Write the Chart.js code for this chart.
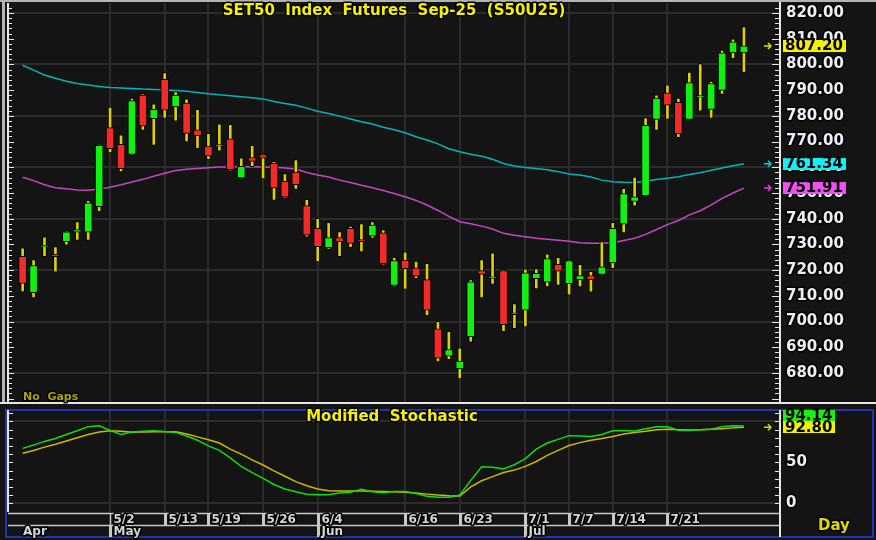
<!DOCTYPE html>
<html lang="en">
<head>
<meta charset="UTF-8" />
<title>SET50 Index Futures Sep-25</title>
<script src="https://cdn.jsdelivr.net/npm/chart.js@4.4.1/dist/chart.umd.min.js"></script>
<style>
  body { margin: 0; background: #141414; }
  #wrap { position: relative; width: 876px; height: 540px; background: #141414; overflow: hidden; }
  canvas { position: absolute; left: 0; }
  #main { top: 0; }
  #stoch { top: 404px; }
</style>
</head>
<body>
<div id="wrap">
  <canvas id="main" width="876" height="404"></canvas>
  <canvas id="stoch" width="876" height="136"></canvas>
</div>
<script>
// daily candles, S50U25
const opens  = [725.4,711.2,729.0,726.2,731.1,734.8,734.8,744.7,775.4,768.9,765.0,788.1,778.9,794.2,783.5,785.0,774.6,768.2,768.2,771.1,755.9,763.8,764.9,761.5,754.5,758.1,745.1,736.2,728.7,732.6,736.2,731.9,733.2,734.5,714.0,723.9,720.9,716.3,697.2,686.5,681.6,694.0,719.8,716.8,719.8,703.4,704.4,716.7,715.3,722.2,714.7,716.3,717.9,718.3,722.8,737.9,746.7,749.0,778.6,789.0,785.3,778.6,787.3,782.5,789.9,804.5,804.5];
const highs  = [728.7,724.1,732.9,729.1,735.3,738.9,747.1,769.0,783.4,772.6,786.9,788.7,784.7,796.8,789.4,786.6,782.5,773.2,776.9,776.7,763.7,768.5,765.4,762.3,757.5,763.0,747.5,740.1,738.6,735.0,737.1,738.1,738.9,735.8,725.0,727.1,723.5,722.6,700.1,696.2,689.8,716.3,724.1,726.7,720.3,707.0,720.5,720.6,726.3,725.0,724.1,722.2,719.5,731.1,738.6,751.8,756.2,779.3,788.2,792.1,786.9,797.0,800.3,793.4,805.6,810.0,814.7];
const lows   = [711.5,709.2,725.2,719.2,729.7,731.5,731.5,742.7,765.6,758.2,764.5,774.3,768.5,779.0,777.9,769.9,767.2,763.0,766.3,758.5,755.5,760.2,755.5,747.1,747.9,751.4,732.8,723.2,728.0,725.2,728.7,727.1,732.3,721.9,713.5,712.5,716.7,702.3,684.3,685.2,677.7,692.0,709.2,714.4,696.0,697.2,697.9,712.7,713.5,714.0,710.2,713.5,711.4,718.0,720.6,734.5,744.9,748.8,774.3,778.6,771.5,778.3,781.8,779.0,788.3,802.2,796.8];
const closes = [714.8,721.8,729.6,725.2,734.9,735.8,746.2,768.5,767.2,759.5,785.9,776.0,782.5,782.2,788.1,773.2,772.3,764.3,768.8,759.1,760.4,762.3,763.5,751.9,748.4,753.2,733.6,729.1,732.6,731.1,730.4,731.1,737.5,722.5,723.7,720.6,717.6,704.4,685.7,689.1,684.6,715.4,718.3,717.4,698.8,702.7,718.9,718.7,724.5,719.6,723.7,717.9,716.3,721.3,736.2,749.8,748.5,776.3,786.9,784.2,773.0,792.9,787.9,792.6,804.5,808.8,807.2];

// moving averages
const maLong  = [799.7,797.8,795.9,794.6,793.5,792.6,792.0,791.4,791.0,790.8,790.6,790.4,790.3,790.1,789.9,789.6,789.1,788.6,788.2,787.8,787.4,787.0,786.6,785.6,784.8,784.1,783.0,781.8,780.9,779.9,778.8,777.7,776.8,775.6,774.6,773.4,771.9,770.6,769.1,767.2,766.0,765.1,764.3,763.1,761.5,760.5,759.9,759.5,759.0,758.3,757.4,757.0,756.2,755.0,754.4,754.2,754.1,754.6,755.2,755.7,756.3,757.2,757.9,758.8,759.7,760.6,761.34];
const maShort = [756.1,754.8,753.2,752.0,751.6,751.2,751.1,751.5,752.2,753.2,754.3,755.3,756.5,757.7,758.7,759.2,759.5,759.8,760.1,760.2,760.3,760.2,760.1,760.0,759.7,759.3,758.0,757.0,756.2,755.0,754.1,753.0,752.0,751.0,749.8,748.5,747.1,745.3,743.2,740.9,738.8,738.0,737.1,736.0,734.3,733.6,733.0,732.4,732.0,731.6,731.2,730.6,730.4,730.4,730.6,731.5,732.4,733.9,735.8,737.7,739.3,741.5,743.1,745.4,747.9,750.0,751.91];

// modified stochastic
const stochK = [67.0,71.0,75.5,79.0,84.0,88.5,93.5,94.5,89.0,84.0,87.0,88.0,88.5,87.5,86.5,82.0,77.0,70.0,64.5,55.5,45.0,37.5,30.5,23.0,17.5,14.0,11.0,10.3,10.5,12.5,13.5,17.0,14.0,13.0,14.5,14.5,12.0,8.5,7.5,7.3,10.1,28.0,44.5,44.0,41.8,47.0,54.5,66.0,73.5,78.0,82.5,82.2,81.5,84.0,88.5,88.8,88.3,91.0,93.4,93.4,89.0,88.8,89.6,90.2,93.5,94.6,94.14];
const stochD = [61.0,64.5,68.5,72.0,76.0,80.0,84.0,87.0,88.5,88.0,86.8,87.0,87.2,87.3,87.3,84.5,81.0,77.5,73.5,66.0,60.0,53.0,46.7,39.5,33.0,26.5,21.5,17.5,15.3,15.0,15.0,15.0,14.8,14.5,14.2,13.5,12.5,11.2,10.0,9.2,8.9,20.0,27.5,32.5,37.5,40.5,45.0,51.0,58.5,64.5,70.5,74.0,77.0,79.0,81.5,84.5,86.5,88.0,89.8,90.3,89.8,89.4,89.6,90.2,91.0,92.0,92.8];

// x axis labels (candle index -> text)
const tickIdx    = [8, 13, 17, 22, 27, 35, 40, 46, 50, 54, 59];
const tickLabels = ['5/2','5/13','5/19','5/26','6/4','6/16','6/23','7/1','7/7','7/14','7/21'];
const monthIdx    = [-1.34, 8, 27, 46];
const monthLabels = ['Apr', 'May', 'Jun', 'Jul'];

const priceTicks = [680,690,700,710,720,730,740,750,760,770,780,790,800,810,820];

const xMin = -1.34, xMax = 69.3;
const GRID = '#2c2c2c';
const FONT = 'DejaVu Sans';
const GREEN = '#12f012', RED = '#f42a2a', WICK = '#dcd200';

const bodies = closes.map((c, i) => ({ x: i, y: [opens[i], c] }));
const wicks = highs.map((h, i) => ({ x: i, y: [lows[i], h] }));
const bodyColors = closes.map((c, i) => c >= opens[i] ? GREEN : RED);
const pts = arr => arr.map((v, i) => ({ x: i, y: v }));

function xScale() {
  return {
    type: 'linear', min: xMin, max: xMax, offset: false,
    afterBuildTicks: s => { s.ticks = tickIdx.map(v => ({ value: v })); },
    ticks: { display: false },
    grid: { color: GRID, lineWidth: 2, drawTicks: false, offset: false },
    border: { display: false },
    afterFit: s => { s.height = 0; s.paddingLeft = 0; s.paddingRight = 0; }
  };
}

function outlined(ctx, txt, x, y, font, fill, align) {
  ctx.font = font;
  ctx.textAlign = align || 'left';
  ctx.textBaseline = 'middle';
  ctx.lineJoin = 'round';
  ctx.lineWidth = 3;
  ctx.strokeStyle = '#000';
  ctx.strokeText(txt, x, y);
  ctx.fillStyle = fill;
  ctx.fillText(txt, x, y);
}

function arrow(ctx, py, color) {
  ctx.strokeStyle = color;
  ctx.lineWidth = 1.5;
  ctx.beginPath();
  ctx.moveTo(764, py); ctx.lineTo(771, py);
  ctx.moveTo(768, py - 3); ctx.lineTo(771, py); ctx.lineTo(768, py + 3);
  ctx.stroke();
}

function tag(ctx, txt, py, bg, w) {
  ctx.fillStyle = bg;
  ctx.fillRect(783, Math.round(py - 6), w, 12);
  ctx.font = 'bold 15px ' + FONT;
  ctx.textAlign = 'left';
  ctx.textBaseline = 'middle';
  ctx.fillStyle = '#000';
  ctx.fillText(txt, 785, py + 0.5);
}

function hline(ctx, x1, x2, y) { ctx.beginPath(); ctx.moveTo(x1, y); ctx.lineTo(x2, y); ctx.stroke(); }
function vline(ctx, x, y1, y2) { ctx.beginPath(); ctx.moveTo(x, y1); ctx.lineTo(x, y2); ctx.stroke(); }

const mainDeco = {
  id: 'mainDeco',
  afterDraw(chart) {
    const ctx = chart.ctx, y = chart.scales.y, a = chart.chartArea;
    ctx.save();
    // window frame
    ctx.fillStyle = '#b4b4b4';
    ctx.fillRect(0, 0, 876, 2);
    ctx.fillRect(2, 0, 3, 404);
    ctx.fillStyle = '#e4e4e4';
    ctx.fillRect(0, 402, 876, 2);
    // left axis + minor ticks
    ctx.strokeStyle = '#e8e8e8';
    ctx.lineWidth = 2;
    vline(ctx, 8, a.top, a.bottom);
    ctx.lineWidth = 1;
    for (let v = 670; v <= 822; v += 2) {
      const py = Math.round(y.getPixelForValue(v)) + 0.5;
      const big = v % 10 === 0;
      hline(ctx, 8, big ? 14 : 12, py);
      hline(ctx, big ? 772 : 775, 780, py);
    }
    outlined(ctx, 'SET50  Index  Futures  Sep-25  (S50U25)', 394, 11, 'bold 15px ' + FONT, '#f4f000', 'center');
    outlined(ctx, 'No  Gaps', 23, 397, 'bold 11px ' + FONT, '#a8a400', 'left');
    // last value tags
    const n = closes.length - 1;
    const pc = y.getPixelForValue(closes[n]);
    const pl = y.getPixelForValue(maLong[n]);
    const ps = y.getPixelForValue(maShort[n]);
    arrow(ctx, pc, '#e8e000'); tag(ctx, closes[n].toFixed(2), pc, '#f4f000', 63);
    arrow(ctx, pl, '#00d0d8'); tag(ctx, maLong[n].toFixed(2), pl, '#10f0f8', 63);
    arrow(ctx, ps, '#e040e0'); tag(ctx, maShort[n].toFixed(2), ps, '#f050f0', 63);
    ctx.restore();
  }
};

const stochDeco = {
  id: 'stochDeco',
  afterDraw(chart) {
    const ctx = chart.ctx, y = chart.scales.y, x = chart.scales.x, a = chart.chartArea;
    ctx.save();
    // frame
    ctx.strokeStyle = '#2232b0';
    ctx.lineWidth = 2;
    ctx.strokeRect(6, 6, 867, 127);
    ctx.strokeStyle = '#e8e8e8';
    vline(ctx, 780, 6, 133);
    vline(ctx, 8, a.top, a.bottom);
    ctx.lineWidth = 1;
    for (let v = -10; v <= 110; v += 10) {
      const py = Math.round(y.getPixelForValue(v)) + 0.5;
      if (py < a.top || py > a.bottom) continue;
      hline(ctx, 8, 13, py);
      hline(ctx, 775, 780, py);
    }
    // date row
    ctx.strokeStyle = '#c8c8c8';
    ctx.lineWidth = 1.5;
    hline(ctx, 8, 779, 109.5);
    hline(ctx, 8, 779, 121.5);
    tickIdx.forEach((v, i) => {
      const px = Math.round(x.getPixelForValue(v)) + 0.5;
      ctx.strokeStyle = '#c8c8c8';
      vline(ctx, px, 109.5, 121.5);
      outlined(ctx, tickLabels[i], px + 3, 116, 'bold 12px ' + FONT, '#d4d4d4', 'left');
    });
    monthIdx.forEach((v, i) => {
      const px = Math.round(x.getPixelForValue(v)) + 0.5;
      if (i > 0) { ctx.strokeStyle = '#c8c8c8'; vline(ctx, px, 121.5, 133); }
      outlined(ctx, monthLabels[i], i === 0 ? 23 : px + 3, 127.5, 'bold 12px ' + FONT, '#d4d4d4', 'left');
    });
    outlined(ctx, 'Day', 818, 122, 'bold 15px ' + FONT, '#e0d800', 'left');
    outlined(ctx, 'Modified  Stochastic', 392, 13, 'bold 15px ' + FONT, '#f4f000', 'center');
    // last value tags
    const n = stochK.length - 1;
    const pd = y.getPixelForValue(stochD[n]);
    arrow(ctx, pd, '#c8e000');
    tag(ctx, stochK[n].toFixed(2), pd - 11.5, '#18f018', 52);
    tag(ctx, stochD[n].toFixed(2), pd, '#f4f000', 52);
    ctx.restore();
  }
};

new Chart(document.getElementById('main'), {
  type: 'bar',
  data: {
    datasets: [
      { type: 'bar', data: bodies, backgroundColor: bodyColors, borderColor: '#000', borderWidth: 1,
        borderSkipped: false, barThickness: 8, grouped: false },
      { type: 'bar', data: wicks, backgroundColor: WICK, borderColor: '#000', borderWidth: 1,
        borderSkipped: false, barThickness: 4, grouped: false },
      { type: 'line', data: pts(maLong), borderColor: '#00b4bc', borderWidth: 1.5, pointRadius: 0, tension: 0 },
      { type: 'line', data: pts(maShort), borderColor: '#c844c8', borderWidth: 1.5, pointRadius: 0, tension: 0 }
    ]
  },
  options: {
    responsive: false,
    animation: false,
    devicePixelRatio: 1,
    layout: { padding: { left: 8, top: 3, right: 0, bottom: 1 } },
    plugins: { legend: { display: false }, tooltip: { enabled: false } },
    scales: {
      x: xScale(),
      y: {
        position: 'right', min: 668.3, max: 823.9,
        afterBuildTicks: s => { s.ticks = priceTicks.map(v => ({ value: v })); },
        ticks: {
          color: '#eceef4', padding: 6, font: { family: FONT, size: 15, weight: 'bold' },
          textStrokeColor: '#000', textStrokeWidth: 3,
          callback: v => v.toFixed(2)
        },
        grid: { color: c => c.tick && c.tick.value % 20 === 0 ? GRID : 'transparent', lineWidth: 2, drawTicks: false },
        border: { color: '#e8e8e8', width: 2 },
        afterFit: s => { s.width = 96; s.paddingTop = 0; s.paddingBottom = 0; }
      }
    }
  },
  plugins: [mainDeco]
});

new Chart(document.getElementById('stoch'), {
  type: 'line',
  data: {
    datasets: [
      { data: pts(stochK), borderColor: '#10dc10', borderWidth: 1.5, pointRadius: 0, tension: 0 },
      { data: pts(stochD), borderColor: '#ccb800', borderWidth: 1.5, pointRadius: 0, tension: 0 }
    ]
  },
  options: {
    responsive: false,
    animation: false,
    devicePixelRatio: 1,
    layout: { padding: { left: 8, top: 6, right: 0, bottom: 28 } },
    plugins: { legend: { display: false }, tooltip: { enabled: false } },
    scales: {
      x: xScale(),
      y: {
        position: 'right', min: -10.6, max: 113.8,
        afterBuildTicks: s => { s.ticks = [0, 50, 100].map(v => ({ value: v })); },
        ticks: {
          color: '#eceef4', padding: 6, font: { family: FONT, size: 15, weight: 'bold' },
          textStrokeColor: '#000', textStrokeWidth: 3,
          callback: v => v === 100 ? '' : String(v)
        },
        grid: { color: c => c.tick && c.tick.value === 50 ? 'transparent' : GRID, lineWidth: 2, drawTicks: false },
        border: { color: '#e8e8e8', width: 2 },
        afterFit: s => { s.width = 96; s.paddingTop = 0; s.paddingBottom = 0; }
      }
    }
  },
  plugins: [stochDeco]
});
</script>
</body>
</html>
